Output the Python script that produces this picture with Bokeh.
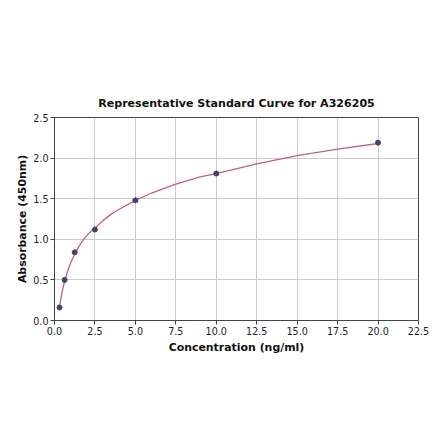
from bokeh.plotting import figure
from bokeh.models import ColumnDataSource, Range1d, FixedTicker, NumeralTickFormatter
from bokeh.embed import file_html
from bokeh.resources import INLINE

# standard points
conc = [0.3125, 0.625, 1.25, 2.5, 5.0, 10.0, 20.0]
absorbance = [0.16, 0.50, 0.84, 1.12, 1.48, 1.81, 2.19]

# fitted curve
curve_x = [0.3125, 0.4, 0.5, 0.625, 0.8, 1.0, 1.25, 1.5, 1.8, 2.1, 2.5, 3.0, 3.5,
           4.0, 5.0, 6.0, 7.5, 9.0, 10.0, 12.5, 15.0, 17.5, 20.0]
curve_y = [0.17, 0.28, 0.38, 0.48, 0.60, 0.71, 0.82, 0.91, 1.00, 1.07, 1.14, 1.23, 1.31,
           1.37, 1.48, 1.57, 1.68, 1.77, 1.81, 1.93, 2.03, 2.11, 2.18]

x_ticks = [0.0, 2.5, 5.0, 7.5, 10.0, 12.5, 15.0, 17.5, 20.0, 22.5]
y_ticks = [0.0, 0.5, 1.0, 1.5, 2.0, 2.5]

FONT = "DejaVu Sans"

p = figure(
    frame_width=364, frame_height=203,
    x_range=Range1d(0, 22.5), y_range=Range1d(0, 2.5),
    title="Representative Standard Curve for A326205",
    toolbar_location=None, output_backend="svg",
)
p.min_border_left = 54
p.min_border_right = 15
p.min_border_top = 117
p.min_border_bottom = 95

p.title.align = "center"
p.title.text_font = FONT
p.title.text_font_size = "8.3pt"
p.title.text_font_style = "bold"
p.title.text_color = "#111111"
p.title.standoff = 16

p.outline_line_color = "#444444"
p.outline_line_width = 1

curve = ColumnDataSource(data={"x": curve_x, "y": curve_y})
pts = ColumnDataSource(data={"x": conc, "y": absorbance})
p.line("x", "y", source=curve, line_color="#c0627e", line_width=1.3)
p.scatter("x", "y", source=pts, size=5, color="#3c4668")

for ax in (p.xaxis, p.yaxis):
    ax.major_label_text_font = FONT
    ax.major_label_text_font_size = "7.2pt"
    ax.major_label_text_color = "#222222"
    ax.major_label_standoff = 2
    ax.axis_label_text_font = FONT
    ax.axis_label_text_font_size = "8.2pt"
    ax.axis_label_text_font_style = "bold"
    ax.axis_label_text_color = "#111111"
    ax.axis_line_color = "#444444"
    ax.major_tick_line_color = "#444444"
    ax.major_tick_out = 4
    ax.major_tick_in = 0
    ax.minor_tick_line_color = None
    ax.formatter = NumeralTickFormatter(format="0.0")

p.xaxis.ticker = FixedTicker(ticks=x_ticks)
p.yaxis.ticker = FixedTicker(ticks=y_ticks)
p.xaxis.axis_label = "Concentration (ng/ml)"
p.yaxis.axis_label = "Absorbance (450nm)"
p.xaxis.axis_label_standoff = 3
p.yaxis.axis_label_standoff = 1

p.xgrid.ticker = FixedTicker(ticks=x_ticks)
p.ygrid.ticker = FixedTicker(ticks=y_ticks)
p.grid.grid_line_color = "#cccccc"
p.grid.grid_line_width = 1

open("out.html", "w").write(file_html(p, INLINE))
